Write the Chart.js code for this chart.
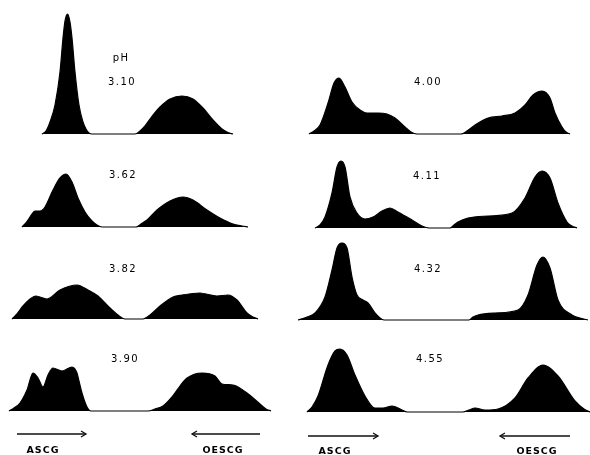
<!DOCTYPE html>
<html>
<head>
<meta charset="utf-8">
<script src="https://cdn.jsdelivr.net/npm/chart.js@4"></script>
<style>
  body { margin: 0; background: #fff; }
  #wrap { position: relative; width: 590px; height: 455px; overflow: hidden; }
  #wrap canvas { position: absolute; }
  .lbl { position: absolute; font-family: "DejaVu Sans", sans-serif; font-size: 10px; color: #000;
         letter-spacing: 1.4px; transform: translate(-50%, -50%); white-space: nowrap; }
  .dir { font-weight: bold; font-size: 9.5px; letter-spacing: 1px; }
  svg { position: absolute; left: 0; top: 0; }
</style>
</head>
<body>
<div id="wrap"></div>
<script>
// distance along the recording (mm) and absorbance (arbitrary units)
const ph310X = [42, 46, 50, 55, 60, 63, 65, 67.5, 70, 72, 75, 79, 83, 86, 89, 92, 135, 140, 145, 150, 160, 170, 182, 193, 203, 213, 222, 228, 233];
const ph310Y = [0, 3, 12, 29, 62, 96, 113, 120, 112, 96, 62, 29, 12, 5, 1, 0, 0, 3, 8, 15, 27, 35, 38, 35, 26, 14, 5, 1.5, 0];

const ph362X = [22, 25, 28, 32, 35, 40, 45, 53, 60, 66, 72, 78, 85, 92, 97, 102, 136, 141, 147, 157, 170, 183, 193, 207, 220, 233, 242, 248];
const ph362Y = [0, 3, 7, 13, 16, 16, 20, 37, 49, 53, 45, 29, 15, 6, 2, 0, 0, 3, 7, 17, 26, 30, 27, 17, 9, 3, 1, 0];

const ph382X = [12, 16, 23, 30, 36, 47, 60, 77, 88, 98, 110, 118, 125, 143, 150, 160, 173, 182, 200, 217, 228, 237, 247, 253, 258];
const ph382Y = [0, 4, 13, 20, 23, 20, 29, 34, 29, 23, 11, 4, 0, 0, 4, 13, 22, 24, 26, 23, 24, 19, 6, 2, 0];

const ph390X = [9, 14, 20, 27, 33, 38, 43, 48, 53, 62, 72, 77, 79, 82, 87, 91, 148, 155, 163, 172, 180, 187, 202, 215, 222, 233, 247, 260, 266, 271];
const ph390Y = [0, 3, 8, 21, 38, 33, 24, 36, 43, 40, 44, 38, 30, 18, 4, 0, 0, 2, 5, 14, 25, 33, 38, 35, 27, 26, 18, 7, 2, 0];

const ph400X = [14, 19, 25, 33, 39, 44, 50, 57, 65, 72, 83, 92, 100, 110, 116, 122, 166, 172, 180, 193, 207, 220, 230, 238, 247, 255, 260, 267, 271, 275];
const ph400Y = [0, 3, 9, 31, 51, 56, 47, 32, 24, 21, 21, 20, 16, 7, 2, 0, 0, 3, 9, 16, 18, 21, 29, 39, 43, 36, 21, 7, 2, 0];

const ph411X = [20, 25, 30, 37, 42, 46, 50, 55, 62, 70, 78, 87, 95, 103, 117, 127, 134, 155, 159, 163, 173, 193, 217, 230, 240, 247, 255, 263, 272, 277, 282];
const ph411Y = [0, 3, 11, 35, 61, 67, 61, 31, 15, 9, 11, 17, 20, 16, 8, 2, 0, 0, 3, 6, 10, 12, 15, 30, 51, 57, 50, 25, 6, 2, 0];

const ph432X = [3, 12, 20, 30, 37, 42, 47, 52, 57, 62, 68, 73, 80, 85, 89, 174, 178, 183, 200, 223, 233, 242, 248, 255, 263, 277, 287, 293];
const ph432Y = [0, 3, 7, 23, 50, 72, 77, 72, 43, 25, 20, 17, 7, 2, 0, 0, 3, 5, 7, 10, 25, 55, 63, 52, 20, 5, 1.5, 0];

const ph455X = [12, 17, 23, 33, 40, 45, 52, 60, 70, 80, 88, 97, 107, 112, 168, 174, 180, 190, 203, 220, 233, 248, 263, 280, 289, 295];
const ph455Y = [0, 5, 16, 47, 61, 63, 57, 37, 16, 4, 4, 6, 2, 0, 0, 2, 4, 2, 3, 14, 34, 47, 36, 11, 3, 0];

const pHLabels = ['3.10', '3.62', '3.82', '3.90', '4.00', '4.11', '4.32', '4.55'];
const directionLabels = ['ASCG', 'OESCG'];

const panels = [
  { xs: ph310X, ys: ph310Y, col: 0, base: 134, label: pHLabels[0], lx: 122, ly: 81 },
  { xs: ph362X, ys: ph362Y, col: 0, base: 227, label: pHLabels[1], lx: 123, ly: 174 },
  { xs: ph382X, ys: ph382Y, col: 0, base: 319, label: pHLabels[2], lx: 123, ly: 268 },
  { xs: ph390X, ys: ph390Y, col: 0, base: 411, label: pHLabels[3], lx: 125, ly: 358 },
  { xs: ph400X, ys: ph400Y, col: 1, base: 134, label: pHLabels[4], lx: 428, ly: 81 },
  { xs: ph411X, ys: ph411Y, col: 1, base: 228, label: pHLabels[5], lx: 427, ly: 175 },
  { xs: ph432X, ys: ph432Y, col: 1, base: 320, label: pHLabels[6], lx: 428, ly: 268 },
  { xs: ph455X, ys: ph455Y, col: 1, base: 412, label: pHLabels[7], lx: 430, ly: 358 }
];

const columns = [{ left: 0, width: 280 }, { left: 295, width: 295 }];
const wrap = document.getElementById('wrap');

function addLabel(text, x, y, cls) {
  const d = document.createElement('div');
  d.className = 'lbl' + (cls ? ' ' + cls : '');
  d.textContent = text;
  d.style.left = x + 'px';
  d.style.top = y + 'px';
  wrap.appendChild(d);
}

panels.forEach(p => {
  const col = columns[p.col];
  const canvas = document.createElement('canvas');
  canvas.width = col.width;
  canvas.height = 127;
  canvas.style.left = col.left + 'px';
  canvas.style.top = (p.base - 125) + 'px';
  wrap.appendChild(canvas);

  new Chart(canvas.getContext('2d'), {
    type: 'line',
    data: {
      datasets: [{
        data: p.xs.map((x, i) => ({ x: x, y: p.ys[i] })),
        borderColor: '#000',
        backgroundColor: '#000',
        borderWidth: 1.2,
        pointRadius: 0,
        fill: 'origin',
        tension: 0.4,
        cubicInterpolationMode: 'monotone'
      }]
    },
    options: {
      responsive: false,
      animation: false,
      layout: { padding: 0 },
      scales: {
        x: { type: 'linear', min: 0, max: col.width, display: false },
        y: { min: -2, max: 125, display: false }
      },
      plugins: { legend: { display: false }, tooltip: { enabled: false } }
    }
  });

  addLabel(p.label, p.lx, p.ly);
});

addLabel('pH', 121, 57);

// direction arrows under the bottom panels
const arrows = [
  { x1: 17, x2: 86, y: 434, right: true }, { x1: 192, x2: 260, y: 434, right: false },
  { x1: 308, x2: 378, y: 436, right: true }, { x1: 500, x2: 570, y: 436, right: false }
];
let svg = '<svg width="590" height="455">';
arrows.forEach(a => {
  svg += `<line x1="${a.x1}" y1="${a.y}" x2="${a.x2}" y2="${a.y}" stroke="#111" stroke-width="1.3"/>`;
  const tip = a.right ? a.x2 : a.x1;
  const back = a.right ? tip - 5 : tip + 5;
  svg += `<polyline points="${back},${a.y - 3} ${tip},${a.y} ${back},${a.y + 3}" fill="none" stroke="#111" stroke-width="1.3"/>`;
});
svg += '</svg>';
wrap.insertAdjacentHTML('beforeend', svg);

addLabel(directionLabels[0], 43, 449, 'dir');
addLabel(directionLabels[1], 223, 449, 'dir');
addLabel(directionLabels[0], 335, 450, 'dir');
addLabel(directionLabels[1], 537, 450, 'dir');
</script>
</body>
</html>
